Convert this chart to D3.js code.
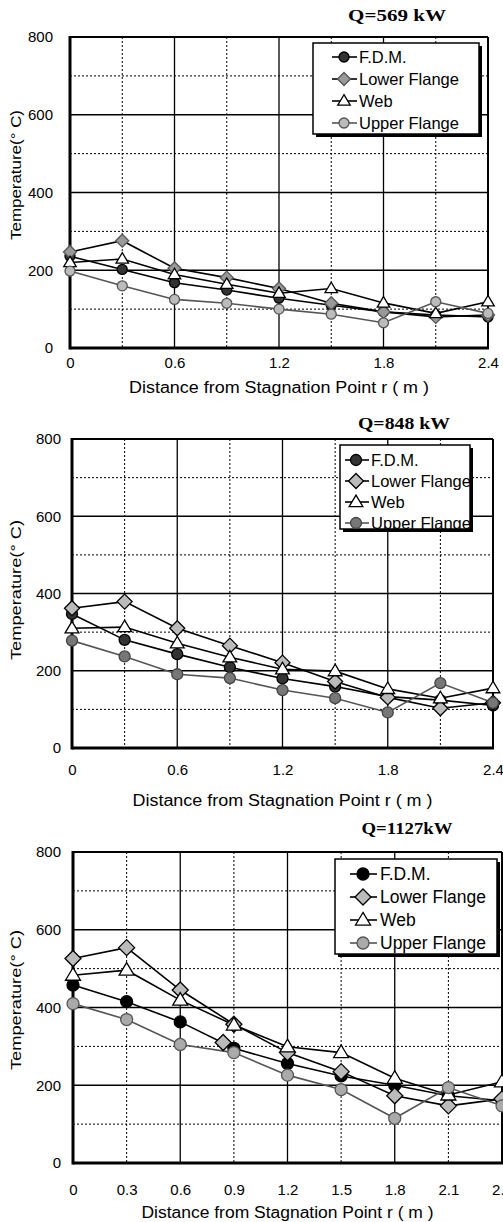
<!DOCTYPE html>
<html>
<head>
<meta charset="utf-8">
<script src="https://cdn.jsdelivr.net/npm/d3@7"></script>
<style>
  html, body { margin: 0; padding: 0; background: #fff; }
  svg { display: block; }
  text { font-family: "Liberation Sans", Arial, sans-serif; fill: #000; }
</style>
</head>
<body>
<svg id="chart" width="503" height="1222"></svg>
<script>
// ---------------- DATA ----------------
const distances = [0, 0.3, 0.6, 0.9, 1.2, 1.5, 1.8, 2.1, 2.4];
const seriesNames = ["F.D.M.", "Lower Flange", "Web", "Upper Flange"];
const panelTitles = ["Q=569 kW", "Q=848 kW", "Q=1127kW"];
const yTicks = [0, 200, 400, 600, 800];
const yMinor = [100, 300, 500, 700];
const xTicksCoarse = [0, 0.6, 1.2, 1.8, 2.4];
const xTicksFine = [0, 0.3, 0.6, 0.9, 1.2, 1.5, 1.8, 2.1, 2.4];
const xMajor = [0.6, 1.2, 1.8];
const xMinor = [0.3, 0.9, 1.5, 2.1];

// Q = 569 kW
const fdm569   = [236, 202, 168, 149, 128, 110, 93, 85, 80];
const lower569 = [247, 276, 205, 181, 153, 115, 93, 80, 85];
const web569   = [220, 229, 189, 164, 141, 153, 116, 89, 119];
const upper569 = [198, 160, 125, 115, 100, 87, 65, 119, 89];
// Q = 848 kW
const fdm848   = [347, 280, 243, 209, 180, 159, 133, 124, 110];
const lower848 = [362, 379, 310, 265, 221, 172, 131, 103, 117];
const web848   = [310, 313, 271, 235, 204, 199, 153, 129, 155];
const upper848 = [278, 237, 191, 181, 150, 129, 92, 168, 117];
// Q = 1127 kW
const fdm1127   = [458, 415, 363, 295, 256, 224, 200, 173, 160];
const lower1127 = [526, 554, 445, 357, 284, 235, 173, 147, 165];
const web1127   = [483, 496, 419, 355, 299, 284, 218, 175, 209];
const upper1127 = [410, 369, 305, 284, 226, 189, 115, 194, 147];
const extraDiamond1127X = [0.84];
const extraDiamond1127Y = [310];

// ---------------- LAYOUT / STYLE ----------------
const panels = [
  {
    series: [fdm569, lower569, web569, upper569], title: panelTitles[0],
    left: 70, right: 488, top: 37, bottom: 348, xTicks: xTicksCoarse,
    yLabelEnd: 53, xLabelY: 363, xTitleY: 387, xTitleLen: 300,
    yTitleY: 175, yTitleLen: 130, titleX: 397, titleY: 15, titleLen: 98,
    legend: {x: 313, y: 43, w: 166, h: 91, row0: 57, step: 22, l1: 332, l2: 357, mx: 344, tx: 359, fs: 16.5},
    fills: ["#333", "#999", "#fff", "#bbb"], strokes: ["#000", "#555", "#000", "#555"],
    lines: ["#000", "#000", "#000", "#555"], r: 5, dm: 6.5, extra: null
  },
  {
    series: [fdm848, lower848, web848, upper848], title: panelTitles[1],
    left: 72, right: 493, top: 439, bottom: 748, xTicks: xTicksCoarse,
    yLabelEnd: 61, xLabelY: 770, xTitleY: 800, xTitleLen: 300,
    yTitleY: 590, yTitleLen: 140, titleX: 404, titleY: 423, titleLen: 92,
    legend: {x: 340, y: 445, w: 130, h: 84, row0: 460, step: 21, l1: 345, l2: 369, mx: 356, tx: 371, fs: 16.5},
    fills: ["#333", "#bbb", "#fff", "#777"], strokes: ["#000", "#000", "#000", "#444"],
    lines: ["#000", "#000", "#000", "#555"], r: 5.5, dm: 7.5, extra: null
  },
  {
    series: [fdm1127, lower1127, web1127, upper1127], title: panelTitles[2],
    left: 73, right: 502, top: 852, bottom: 1163, xTicks: xTicksFine,
    yLabelEnd: 61, xLabelY: 1190, xTitleY: 1212, xTitleLen: 292,
    yTitleY: 1000, yTitleLen: 140, titleX: 407, titleY: 828, titleLen: 91,
    legend: {x: 335, y: 859, w: 162, h: 95, row0: 874, step: 23, l1: 350, l2: 377, mx: 363, tx: 380, fs: 17.5},
    fills: ["#000", "#bbb", "#fff", "#aaa"], strokes: ["#000", "#000", "#000", "#555"],
    lines: ["#000", "#000", "#000", "#555"], r: 6, dm: 8,
    extra: {xs: extraDiamond1127X, ys: extraDiamond1127Y, series: 1}
  }
];

const svg = d3.select("#chart");

function symbolPath(i, p) {
  if (i === 1) {
    const s = p.dm;
    const path = d3.path();
    path.moveTo(0, -s); path.lineTo(s, 0); path.lineTo(0, s); path.lineTo(-s, 0); path.closePath();
    return path.toString();
  }
  if (i === 2) {
    const h = p.r * 2.1, w = p.r * 1.25;
    const path = d3.path();
    path.moveTo(0, -h * 0.6); path.lineTo(w, h * 0.4); path.lineTo(-w, h * 0.4); path.closePath();
    return path.toString();
  }
  return d3.symbol().type(d3.symbolCircle).size(Math.PI * p.r * p.r)();
}

panels.forEach(p => {
  const g = svg.append("g");
  const x = d3.scaleLinear().domain([0, 2.4]).range([p.left, p.right]);
  const y = d3.scaleLinear().domain([0, 800]).range([p.bottom, p.top]);

  // grid
  g.selectAll(".hmin").data(yMinor).join("line")
    .attr("x1", p.left).attr("x2", p.right).attr("y1", d => y(d)).attr("y2", d => y(d))
    .attr("stroke", "#000").attr("stroke-width", 1).attr("stroke-dasharray", "2,2");
  g.selectAll(".vmin").data(xMinor).join("line")
    .attr("y1", p.top).attr("y2", p.bottom).attr("x1", d => x(d)).attr("x2", d => x(d))
    .attr("stroke", "#000").attr("stroke-width", 1).attr("stroke-dasharray", "2,2");
  g.selectAll(".hmaj").data([200, 400, 600]).join("line")
    .attr("x1", p.left).attr("x2", p.right).attr("y1", d => y(d)).attr("y2", d => y(d))
    .attr("stroke", "#000").attr("stroke-width", 1.6);
  g.selectAll(".vmaj").data(xMajor).join("line")
    .attr("y1", p.top).attr("y2", p.bottom).attr("x1", d => x(d)).attr("x2", d => x(d))
    .attr("stroke", "#000").attr("stroke-width", 1.3);

  // frame
  g.append("line").attr("x1", p.left).attr("x2", p.right).attr("y1", p.top).attr("y2", p.top)
    .attr("stroke", "#000").attr("stroke-width", 2);
  g.append("line").attr("x1", p.right).attr("x2", p.right).attr("y1", p.top).attr("y2", p.bottom)
    .attr("stroke", "#000").attr("stroke-width", 2);
  g.append("line").attr("x1", p.left).attr("x2", p.left).attr("y1", p.top - 1).attr("y2", p.bottom + 1.5)
    .attr("stroke", "#000").attr("stroke-width", 3);
  g.append("line").attr("x1", p.left).attr("x2", p.right + 1).attr("y1", p.bottom).attr("y2", p.bottom)
    .attr("stroke", "#000").attr("stroke-width", 3);

  // axes labels via d3 axes
  const yAxis = d3.axisLeft(y).tickValues(yTicks).tickSize(0).tickPadding(p.left - p.yLabelEnd).tickFormat(d3.format("d"));
  const ya = g.append("g").attr("transform", `translate(${p.left},0)`).call(yAxis);
  ya.select(".domain").remove();
  ya.selectAll("text").attr("font-size", 15).attr("font-family", "Liberation Sans, Arial, sans-serif");

  const xAxis = d3.axisBottom(x).tickValues(p.xTicks).tickSize(0).tickPadding(0)
    .tickFormat(d => d === 0 ? "0" : d3.format(".1f")(d));
  const xa = g.append("g").attr("transform", `translate(0,${p.xLabelY})`).call(xAxis);
  xa.select(".domain").remove();
  xa.selectAll("text").attr("font-size", 15).attr("dy", "0.35em").attr("y", 0)
    .attr("font-family", "Liberation Sans, Arial, sans-serif");

  // axis titles
  g.append("text").attr("x", (p.left + p.right) / 2).attr("y", p.xTitleY).attr("dy", "0.35em")
    .attr("text-anchor", "middle").attr("font-size", 16)
    .attr("textLength", p.xTitleLen).attr("lengthAdjust", "spacingAndGlyphs")
    .text("Distance from Stagnation Point  r ( m )");
  g.append("text").attr("transform", `translate(16,${p.yTitleY}) rotate(-90)`).attr("dy", "0.35em")
    .attr("text-anchor", "middle").attr("font-size", 15)
    .attr("textLength", p.yTitleLen).attr("lengthAdjust", "spacingAndGlyphs")
    .text("Temperature(° C)");

  // panel title
  g.append("text").attr("x", p.titleX).attr("y", p.titleY).attr("dy", "0.35em")
    .attr("text-anchor", "middle").attr("font-size", 17).attr("font-weight", "bold")
    .style("font-family", "'Liberation Serif', 'Times New Roman', serif")
    .attr("textLength", p.titleLen).attr("lengthAdjust", "spacingAndGlyphs")
    .text(p.title);

  // series
  const line = d3.line().x((d, i) => x(distances[i])).y(d => y(d));
  p.series.forEach((vals, si) => {
    g.append("path").datum(vals).attr("d", line).attr("fill", "none")
      .attr("stroke", p.lines[si]).attr("stroke-width", 1.6);
  });
  p.series.forEach((vals, si) => {
    g.selectAll(null).data(vals).join("path")
      .attr("d", symbolPath(si, p))
      .attr("transform", (d, i) => `translate(${x(distances[i])},${y(d)})`)
      .attr("fill", p.fills[si]).attr("stroke", p.strokes[si]).attr("stroke-width", 1.3);
  });
  if (p.extra) {
    g.selectAll(null).data(p.extra.ys).join("path")
      .attr("d", symbolPath(p.extra.series, p))
      .attr("transform", (d, i) => `translate(${x(p.extra.xs[i])},${y(d)})`)
      .attr("fill", p.fills[p.extra.series]).attr("stroke", p.strokes[p.extra.series]).attr("stroke-width", 1.3);
  }

  // legend
  const L = p.legend;
  g.append("rect").attr("x", L.x + 3).attr("y", L.y + 3).attr("width", L.w).attr("height", L.h).attr("fill", "#000");
  g.append("rect").attr("x", L.x).attr("y", L.y).attr("width", L.w).attr("height", L.h)
    .attr("fill", "#fff").attr("stroke", "#000").attr("stroke-width", 1.5);
  seriesNames.forEach((name, si) => {
    const ry = L.row0 + si * L.step;
    g.append("line").attr("x1", L.l1).attr("x2", L.l2).attr("y1", ry).attr("y2", ry)
      .attr("stroke", p.lines[si]).attr("stroke-width", 1.6);
    g.append("path").attr("d", symbolPath(si, p)).attr("transform", `translate(${L.mx},${ry})`)
      .attr("fill", p.fills[si]).attr("stroke", p.strokes[si]).attr("stroke-width", 1.3);
    g.append("text").attr("x", L.tx).attr("y", ry).attr("dy", "0.35em")
      .attr("font-size", L.fs).text(name);
  });
});
</script>
</body>
</html>
